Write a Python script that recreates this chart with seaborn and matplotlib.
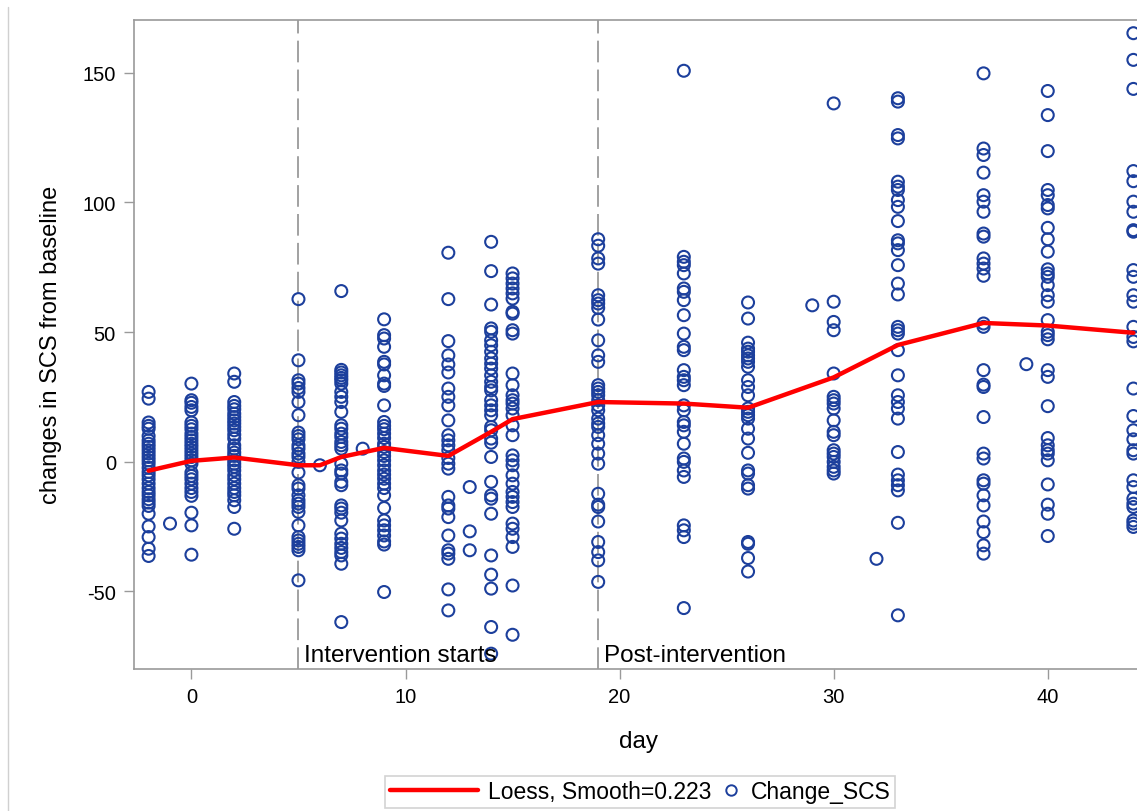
import pandas as pd
import matplotlib
matplotlib.use("Agg")
import matplotlib.pyplot as plt
import matplotlib.transforms as mtransforms
from matplotlib.lines import Line2D
from matplotlib.legend_handler import HandlerLine2DCompound
import seaborn as sns

# -------------------------------
# Data (change in SCS from baseline, per study day)
# -------------------------------
chg_day_m2 = [26.9, 24.3, 15.1, 13.8, 12.7, 9.9, 8.2, 6.9, 5.7, 4.4, 3.1, 1.8, 0.5, -0.8,
              -2.4, -4.0, -5.3, -6.8, -8.5, -10.2, -11.7, -13.0, -14.5, -15.8, -17.1,
              -20.1, -25.0, -29.1, -33.6, -36.4]
chg_day_m1 = [-23.9]
chg_day_0 = [30.1, 23.7, 22.7, 21.1, 19.8, 15.1, 13.8, 12.5, 10.8, 9.5, 8.2, 6.9, 5.7, 4.4,
             3.1, 1.8, 0.5, -0.8, -4.2, -5.5, -6.8, -8.5, -10.2, -11.7, -13.2, -19.7,
             -24.6, -35.9]
chg_day_2 = [34.0, 30.8, 23.0, 21.5, 20.2, 18.5, 17.2, 15.9, 14.7, 13.4, 12.1, 10.4, 8.9,
             6.3, 5.0, 3.5, 2.2, 0.5, -0.8, -2.0, -3.4, -5.3, -6.8, -8.5, -10.2, -11.7,
             -13.0, -14.9, -17.5, -25.9]
chg_day_5 = [62.7, 39.1, 31.4, 30.1, 28.4, 26.9, 23.0, 17.9, 11.2, 9.9, 8.6, 6.3, 5.0, 3.1,
             1.8, -0.1, -4.2, -9.1, -10.4, -13.0, -14.9, -16.2, -17.5, -19.4, -24.6,
             -29.1, -30.4, -31.7, -32.9, -34.2, -45.8]
chg_day_6 = [-1.4]
chg_day_7 = [65.8, 35.4, 34.4, 33.3, 32.3, 31.4, 30.1, 26.9, 25.0, 23.0, 19.2, 14.0, 12.7,
             10.8, 9.5, 7.6, 6.3, 5.0, -0.8, -3.4, -4.6, -7.8, -9.1, -16.9, -18.1, -19.7,
             -22.7, -27.8, -29.7, -31.7, -33.3, -34.9, -36.2, -39.4, -61.9]
chg_day_8 = [5.0]
chg_day_9 = [54.9, 48.8, 47.5, 44.3, 38.5, 37.5, 33.3, 30.1, 29.2, 21.7, 15.3, 13.8, 12.5,
             10.8, 9.1, 6.9, 5.7, 3.7, 2.2, 0.5, -1.4, -3.4, -5.0, -6.6, -8.5, -10.2,
             -13.0, -17.9, -22.7, -24.6, -26.5, -28.5, -30.8, -32.0, -50.3]
chg_day_12 = [80.6, 62.7, 46.5, 41.0, 37.5, 34.4, 28.2, 25.0, 21.7, 15.9, 10.2, 8.2, 6.3,
              4.4, 1.4, -0.8, -2.7, -13.6, -16.9, -18.1, -21.4, -28.5, -34.2, -35.5,
              -37.5, -49.3, -57.4]
chg_day_13 = [-9.8, -26.9, -34.2]
chg_day_14 = [84.8, 73.5, 60.6, 51.4, 50.1, 46.8, 44.9, 42.4, 39.8, 37.8, 35.9, 33.3, 30.8,
              28.8, 27.5, 23.7, 21.7, 19.8, 17.9, 13.4, 12.1, 8.9, 7.3, 1.8, -7.8, -13.0,
              -14.3, -20.1, -36.2, -43.6, -49.0, -63.8, -74.1]
chg_day_15 = [72.6, 70.7, 68.7, 66.8, 64.9, 62.9, 57.8, 57.1, 50.7, 49.4, 34.0, 29.5, 25.6,
              23.7, 22.4, 20.5, 17.9, 14.0, 10.2, 2.4, 0.5, -1.4, -5.3, -8.5, -11.7, -13.6,
              -15.6, -17.5, -23.9, -25.9, -29.1, -32.9, -47.8, -66.8]
chg_day_19 = [85.8, 83.3, 78.4, 76.4, 64.2, 62.3, 61.0, 59.3, 54.8, 46.8, 41.0, 38.5, 29.5,
              28.2, 26.9, 25.6, 23.7, 21.7, 19.8, 16.6, 14.7, 13.4, 10.2, 6.9, 3.1, -0.8,
              -12.4, -16.6, -17.5, -23.1, -31.0, -34.9, -38.1, -46.4]
chg_day_23 = [150.8, 79.0, 77.1, 75.8, 72.6, 66.8, 65.5, 62.3, 56.5, 49.4, 44.3, 43.0, 35.3,
              32.7, 31.4, 29.5, 21.7, 19.8, 15.3, 14.0, 11.5, 6.9, 1.2, -0.1, -3.4, -5.9,
              -24.6, -26.5, -29.1, -56.5]
chg_day_26 = [61.4, 55.2, 45.9, 43.6, 42.4, 41.0, 39.8, 38.5, 36.6, 31.4, 28.8, 25.6, 20.5,
              19.2, 17.9, 16.6, 12.7, 8.9, 3.4, -3.4, -4.6, -9.1, -10.4, -31.0, -31.7,
              -37.2, -42.4]
chg_day_29 = [60.3]
chg_day_30 = [138.2, 61.7, 53.9, 50.7, 34.0, 25.0, 23.7, 22.4, 20.5, 15.9, 11.5, 10.2, 4.4,
              3.1, 1.8, -0.1, -2.0, -3.4, -4.6]
chg_day_32 = [-37.5]
chg_day_33 = [140.2, 138.9, 126.0, 124.7, 108.0, 106.1, 104.8, 100.9, 98.3, 92.8, 85.4, 84.2,
              81.6, 75.8, 68.7, 64.5, 52.0, 50.7, 49.4, 43.0, 33.3, 25.6, 23.0, 20.5, 16.6,
              3.7, -5.0, -7.2, -9.1, -11.1, -23.6, -59.3]
chg_day_37 = [149.8, 120.8, 118.3, 111.5, 102.8, 100.3, 96.4, 88.0, 86.8, 78.4, 76.4, 74.5,
              71.7, 53.3, 52.0, 35.3, 29.7, 28.8, 17.2, 3.1, 1.2, -7.2, -8.5, -13.0, -16.9,
              -23.1, -27.2, -32.3, -35.5]
chg_day_39 = [37.6]
chg_day_40 = [143.0, 133.7, 119.8, 104.8, 102.8, 99.0, 97.7, 90.2, 85.8, 81.0, 74.2, 72.6,
              71.3, 68.1, 64.2, 61.7, 54.6, 50.1, 48.8, 47.2, 35.3, 32.7, 21.4, 9.1, 6.3, 4.4,
              3.1, 0.5, -8.8, -16.6, -20.1, -28.7]
chg_day_44 = [165.3, 155.0, 143.8, 112.1, 108.2, 100.3, 96.4, 89.3, 88.7, 73.9, 71.3, 64.2,
              61.7, 52.0, 48.1, 46.4, 28.2, 17.6, 12.1, 8.6, 4.4, 3.1, -7.2, -9.8, -14.3,
              -16.2, -17.5, -22.7, -23.9, -25.2]

# loess fit (smooth=0.223) as drawn
loess_day = [-2, 0, 2, 5, 6, 7, 9, 12, 14, 15, 19, 23, 26, 30, 33, 37, 40, 44]
loess_fit = [-3.5, 0.3, 1.6, -1.4, -1.4, 1.8, 5.3, 2.2, 11.5, 16.4, 23.0, 22.4, 20.8, 32.5,
             45.0, 53.5, 52.5, 49.7]

phase_days = [5, 19]
phase_labels = ["Intervention starts", "Post-intervention"]

# -------------------------------
# Build tidy frame
# -------------------------------
by_day = {-2: chg_day_m2, -1: chg_day_m1, 0: chg_day_0, 2: chg_day_2, 5: chg_day_5,
          6: chg_day_6, 7: chg_day_7, 8: chg_day_8, 9: chg_day_9, 12: chg_day_12,
          13: chg_day_13, 14: chg_day_14, 15: chg_day_15, 19: chg_day_19, 23: chg_day_23,
          26: chg_day_26, 29: chg_day_29, 30: chg_day_30, 32: chg_day_32, 33: chg_day_33,
          37: chg_day_37, 39: chg_day_39, 40: chg_day_40, 44: chg_day_44}
df = pd.DataFrame([(d, v) for d, vals in by_day.items() for v in vals],
                  columns=["day", "Change_SCS"])
fit = pd.DataFrame({"day": loess_day, "fit": loess_fit})


# marker sits at the right end of its handle box, next to its text
class RightMarkerHandler(HandlerLine2DCompound):
    def get_xdata(self, legend, xdescent, ydescent, width, height, fontsize):
        xdata, _ = super().get_xdata(legend, xdescent, ydescent, width, height, fontsize)
        return xdata, [width - xdescent - 0.4 * fontsize]


# -------------------------------
# Plot
# -------------------------------
sns.set_theme(style="white")
plt.rcParams["font.family"] = ["Liberation Sans", "DejaVu Sans"]
plt.rcParams["axes.unicode_minus"] = False
plt.rcParams["text.color"] = "black"

TICK_FONT = 14.5
LABEL_FONT = 17
NOTE_FONT = 17.5
LEG_FONT = 16.5
GRAY = "#9a9a9a"
BLUE = "#1c3f9c"

fig = plt.figure(figsize=(11.37, 8.12), dpi=100)
ax = fig.add_axes([0.1179, 0.1749, 0.8874, 0.7996])

for d in phase_days:
    ax.axvline(d, color=GRAY, lw=1.3, ls=(0, (12, 4)), zorder=1)

sns.scatterplot(data=df, x="day", y="Change_SCS", ax=ax, marker="o", s=74,
                facecolors="none", edgecolor=BLUE, linewidth=1.5,
                label="Change_SCS", zorder=3)
sns.lineplot(data=fit, x="day", y="fit", ax=ax, color="#ff0000", lw=3.2,
             estimator=None, sort=True, label="Loess, Smooth=0.223", zorder=4)

trans = mtransforms.blended_transform_factory(ax.transData, ax.transAxes)
for d, lab in zip(phase_days, phase_labels):
    ax.annotate(lab, xy=(d, 0), xycoords=trans, xytext=(4, 2),
                textcoords="offset points", ha="left", va="bottom", fontsize=NOTE_FONT)

ax.set_xlim(-2.68, 44.45)
ax.set_ylim(-80, 170.5)
ax.set_xticks([0, 10, 20, 30, 40])
ax.set_yticks([-50, 0, 50, 100, 150])
ax.set_xlabel("day", fontsize=LABEL_FONT + 0.5, labelpad=17, color="black")
ax.set_ylabel("changes in SCS from baseline", fontsize=LABEL_FONT, labelpad=15,
              color="black")
ax.tick_params(axis="both", which="major", direction="out", length=7, width=1,
               color=GRAY, labelsize=TICK_FONT, labelcolor="black", pad=6,
               left=True, bottom=True)
for side in ["left", "bottom", "top"]:
    ax.spines[side].set_color(GRAY)
    ax.spines[side].set_linewidth(1.2)
ax.spines["right"].set_visible(False)

# legend: line first, then markers
handles, labels = ax.get_legend_handles_labels()
line_handle = handles[labels.index("Loess, Smooth=0.223")]
ax.get_legend().remove()
marker_handle = Line2D([], [], marker="o", ls="none", mfc="none", mec=BLUE,
                       mew=1.4, ms=7.5)
leg = fig.legend([line_handle, marker_handle], ["Loess, Smooth=0.223", "Change_SCS"],
                 loc="center", bbox_to_anchor=(0.563, 0.0235), ncol=2, frameon=True,
                 fancybox=False, fontsize=LEG_FONT, handlelength=3.85,
                 columnspacing=-2.6, handletextpad=0.45, borderpad=0.2,
                 borderaxespad=0, handler_map={marker_handle: RightMarkerHandler()})
leg.get_frame().set_edgecolor("#c8c8c8")
leg.get_frame().set_linewidth(1.2)

# thin frame line at the left edge of the image
fig.add_artist(Line2D([0.0066, 0.0066], [0, 0.99], transform=fig.transFigure,
                      color="#d0d0d0", lw=1))

fig.savefig("out.png", dpi=100)
